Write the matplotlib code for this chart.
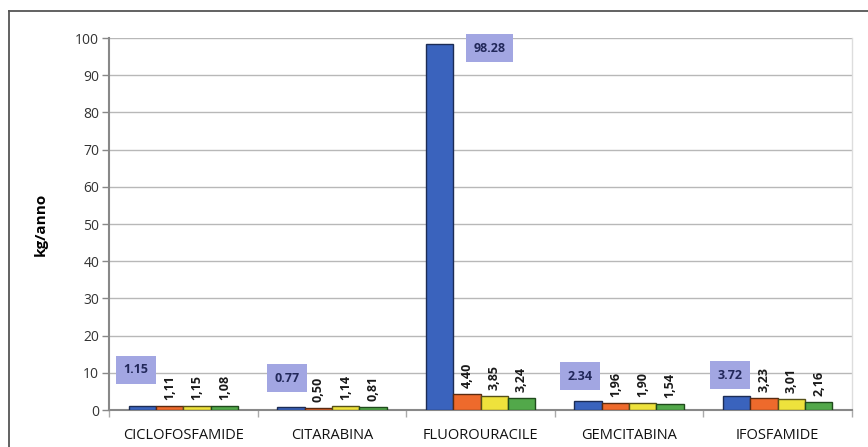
import matplotlib
matplotlib.use("Agg")
import matplotlib.pyplot as plt
from matplotlib.lines import Line2D
import numpy as np

# Drug categories and yearly quantities (kg/anno) for four series
categories = ["CICLOFOSFAMIDE", "CITARABINA", "FLUOROURACILE", "GEMCITABINA", "IFOSFAMIDE"]
serie_1 = [1.15, 0.77, 98.28, 2.34, 3.72]
serie_2 = [1.11, 0.50, 4.40, 1.96, 3.23]
serie_3 = [1.15, 1.14, 3.85, 1.90, 3.01]
serie_4 = [1.08, 0.81, 3.24, 1.54, 2.16]
y_ticks = list(range(0, 101, 10))

series = [serie_1, serie_2, serie_3, serie_4]
colors = ["#3a63bd", "#ee6a2c", "#eee23c", "#52a84a"]
edges = ["#1c2c55", "#5a2a10", "#555018", "#1f4a1c"]

# label offsets for the boxed first series (pixels: dx, dy from bar top)
box_offsets = [(-6, 36), (-4, 29), (50, -4), (-8, 25), (-7, 21)]

plt.rcParams["font.family"] = ["Open Sans", "DejaVu Sans"]

fig = plt.figure(figsize=(8.68, 4.47), dpi=100)
ax = fig.add_axes([109 / 868, 1 - 410 / 447, (852 - 109) / 868, (410 - 38) / 447])

x = np.arange(len(categories))
w = 0.184
px2pt = 72 / 100

for i, (vals, c, ec) in enumerate(zip(series, colors, edges)):
    pos = x + (i - 1.5) * w
    ax.bar(pos, vals, width=w, color=c, edgecolor=ec, linewidth=1.0, zorder=3)
    for j, (p, v) in enumerate(zip(pos, vals)):
        txt = f"{v:.2f}".replace(".", ",") if i > 0 else f"{v:.2f}"
        if i == 0:
            dx, dy = box_offsets[j]
            ax.annotate(txt, (p, v), xytext=(dx * px2pt, dy * px2pt),
                        textcoords="offset points", ha="center", va="center",
                        fontsize=9, fontweight="bold", color="#22285a",
                        bbox=dict(boxstyle="square,pad=0.6", fc="#a2a6e2",
                                  ec="none"), zorder=5)
        else:
            ax.annotate(txt, (p, v), xytext=(0, 6 * px2pt),
                        textcoords="offset points", ha="center", va="bottom",
                        rotation=90, fontsize=9, fontweight="bold",
                        color="#1a1a1a", zorder=5)

ax.set_xlim(-0.5, len(categories) - 0.5)
ax.set_ylim(0, 100)
ax.set_yticks(y_ticks)
ax.set_yticklabels([str(t) for t in y_ticks], fontsize=10, color="#333333")
ax.set_xticks(x)
ax.set_xticklabels(categories, fontsize=10.5, color="#111111")
ax.tick_params(axis="x", length=0, pad=13)
ax.tick_params(axis="y", length=5, width=1, color="#888888", pad=2)
# category boundary ticks on the x axis
ax.set_xticks(np.arange(-0.5, len(categories), 1.0), minor=True)
ax.tick_params(axis="x", which="minor", length=5, width=1, color="#aaaaaa")

ax.grid(axis="y", color="#b8b8b8", linewidth=1.0, zorder=0)
ax.set_axisbelow(True)
for side in ["left", "bottom"]:
    ax.spines[side].set_color("#888888")
    ax.spines[side].set_linewidth(1.5)
ax.spines["top"].set_visible(False)
ax.spines["right"].set_color("#dddddd")
ax.spines["right"].set_linewidth(1.0)

ax.set_ylabel("kg/anno", fontsize=11, fontweight="bold", labelpad=20)

# outer frame (left and top edges)
fig.add_artist(Line2D([9 / 868, 9 / 868], [0, 1 - 11 / 447],
                      transform=fig.transFigure, color="#555555", linewidth=1.3))
fig.add_artist(Line2D([9 / 868, 1], [1 - 11 / 447, 1 - 11 / 447],
                      transform=fig.transFigure, color="#555555", linewidth=1.3))

fig.savefig("out.png", dpi=100)
